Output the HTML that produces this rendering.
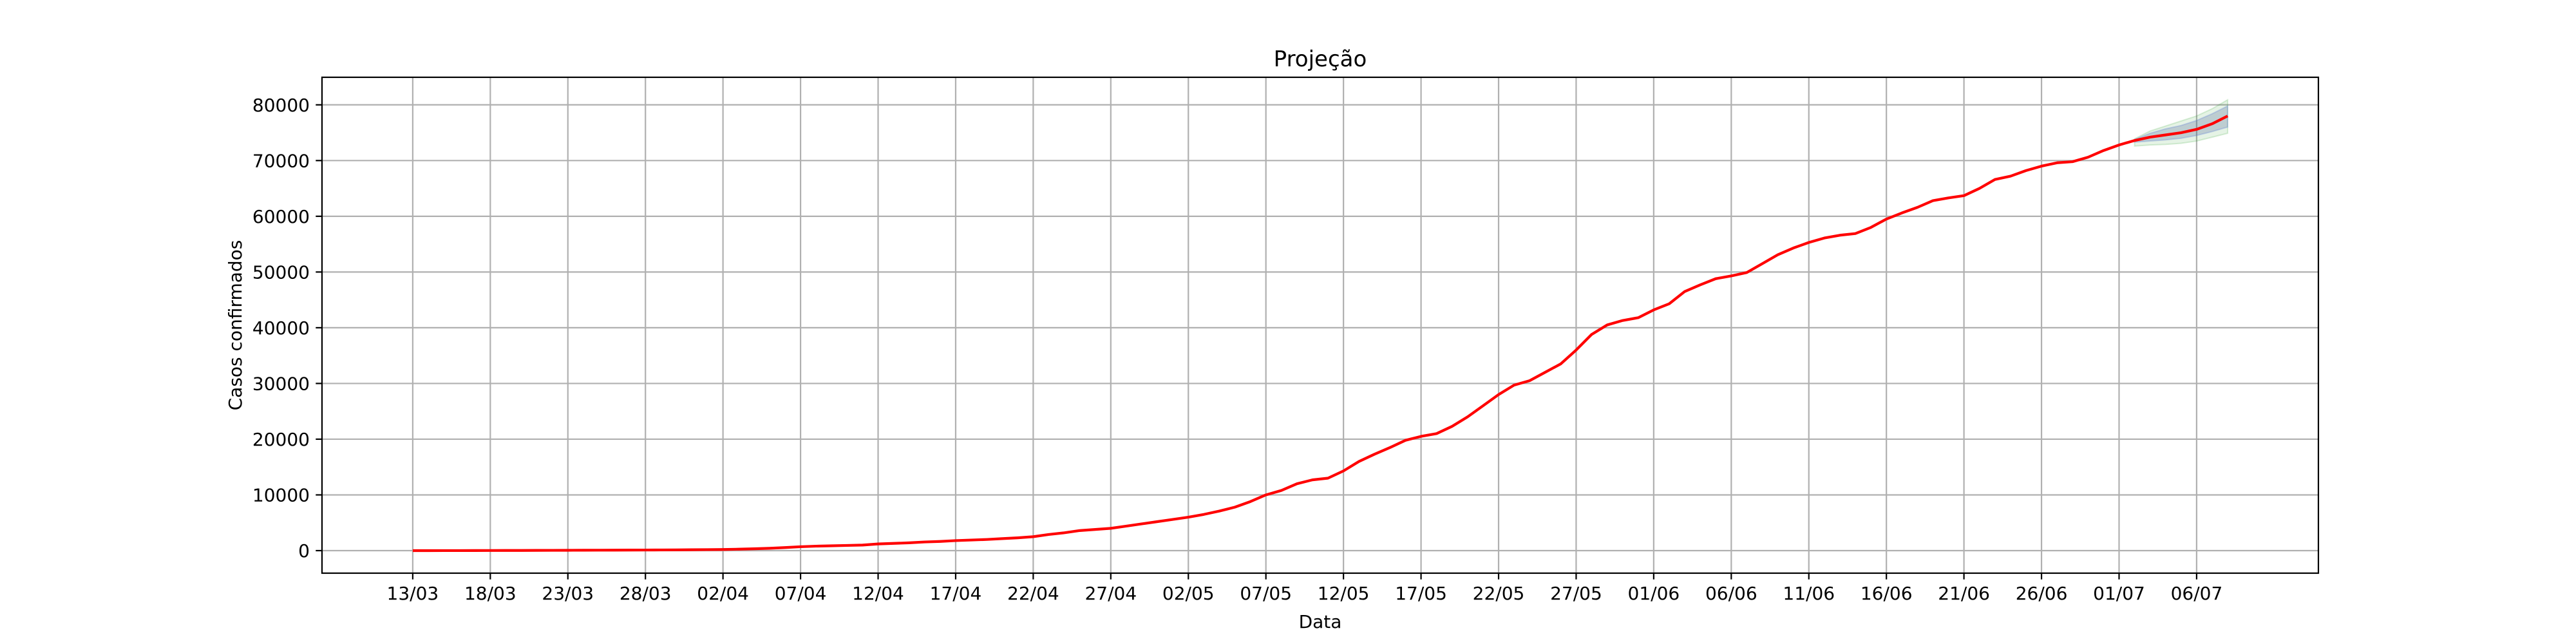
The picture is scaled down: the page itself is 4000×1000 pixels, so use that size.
<!DOCTYPE html>
<html><head><meta charset="utf-8"><title>Projeção</title>
<style>html,body{margin:0;padding:0;background:#fff}svg{display:block;font-family:"DejaVu Sans","Liberation Sans",sans-serif}</style>
</head><body>
<svg id="chart" width="4000" height="1000" viewBox="0 0 4000 1000" xmlns="http://www.w3.org/2000/svg">
<rect width="4000" height="1000" fill="#fff"/>
<g id="grid"></g>
<g id="bands"></g>
<g id="series"></g>
<rect x="500" y="120" width="3100" height="770" fill="none" stroke="#000" stroke-width="2.2"/>
<g id="xaxis"></g>
<g id="yaxis"></g>
<text x="2050" y="103" font-size="34" text-anchor="middle">Projeção</text>
<text x="2050" y="975" font-size="28" text-anchor="middle">Data</text>
<text x="0" y="0" font-size="28" text-anchor="middle" transform="translate(375 505) rotate(-90)">Casos confirmados</text>
</svg>
<script>
const cases = [0,2,5,10,15,20,25,30,40,50,60,70,80,90,100,110,120,140,160,180,200,
260,330,420,550,700,800,870,930,1000,1200,1300,1400,1550,1650,1800,1900,2000,2150,2300,2500,
2900,3200,3600,3800,4000,4400,4800,5200,5600,6000,6500,7100,7800,8800,10000,
10800,12000,12700,13000,14300,16000,17300,18500,19800,20500,21000,22300,24000,26000,28000,
29700,30500,32000,33500,36000,38800,40500,41300,41800,43200,44300,46500,47700,48800,49300,
49900,51500,53100,54300,55300,56100,56600,56900,58000,59500,60600,61600,62800,63300,63700,
65000,66600,67200,68200,69000,69600,69800,70600,71800,72800,
73600,74200,74600,75000,75600,76600,78000];
const bandDays = [111,112,113,114,115,116,117];
const outerHi = [73900,75300,76200,77100,78000,79300,80900];
const innerHi = [73800,74900,75700,76300,77200,78400,79800];
const innerLo = [73300,73500,73700,74000,74500,75200,76000];
const outerLo = [72600,72800,72900,73100,73500,74200,74900];
const xTickDays = [0,5,10,15,20,25,30,35,40,45,50,55,60,65,70,75,80,85,90,95,100,105,110,115];
const xTickLabels = ["13/03","18/03","23/03","28/03","02/04","07/04","12/04","17/04","22/04","27/04","02/05","07/05","12/05","17/05","22/05","27/05","01/06","06/06","11/06","16/06","21/06","26/06","01/07","06/07"];
const yTicks = [0,10000,20000,30000,40000,50000,60000,70000,80000];

const NS="http://www.w3.org/2000/svg";
const L=500,R=3600,T=120,B=890;
const xMin=-5.85, xMax=117+5.85, yMin=-4045, yMax=84945;
const sx=d=>L+(d-xMin)/(xMax-xMin)*(R-L);
const sy=v=>B-(v-yMin)/(yMax-yMin)*(B-T);
function mk(tag,attrs,parent){const e=document.createElementNS(NS,tag);for(const k in attrs)e.setAttribute(k,attrs[k]);parent.appendChild(e);return e;}
const grid=document.getElementById('grid'),xa=document.getElementById('xaxis'),ya=document.getElementById('yaxis');
xTickDays.forEach((d,i)=>{
  const x=sx(d);
  const g=mk('line',{x1:x,x2:x,y1:T,y2:B,stroke:'#b0b0b0','stroke-width':2.2},grid);
  
  
  const t=mk('line',{x1:x,x2:x,y1:B,y2:B+9.7,stroke:'#000','stroke-width':2.2},xa);
  
  
  const lb=mk('text',{x:x,y:931,'font-size':28,'text-anchor':'middle'},xa);
  lb.textContent=xTickLabels[i];
  
  
});
yTicks.forEach(v=>{
  const y=sy(v);
  const g=mk('line',{x1:L,x2:R,y1:y,y2:y,stroke:'#b0b0b0','stroke-width':2.2},grid);
  
  
  const t=mk('line',{x1:L-9.7,x2:L,y1:y,y2:y,stroke:'#000','stroke-width':2.2},ya);
  
  
  const lb=mk('text',{x:481,y:y+10,'font-size':28,'text-anchor':'end'},ya);
  lb.textContent=String(v);
  
  
});
function band(hi,lo,fill,stroke){
  let p=bandDays.map((d,i)=>sx(d)+','+sy(hi[i]));
  p=p.concat(bandDays.slice().reverse().map((d,j)=>{const i=bandDays.length-1-j;return sx(d)+','+sy(lo[i]);}));
  return mk('polygon',{points:p.join(' '),fill:fill,stroke:stroke,'stroke-width':2},document.getElementById('bands'));
}
const ob=band(outerHi,outerLo,'rgba(44,160,44,0.12)','rgba(44,160,44,0.18)');


const ib=band(innerHi,innerLo,'rgba(70,90,150,0.25)','rgba(80,110,220,0.25)');


const line=mk('polyline',{points:cases.map((v,i)=>sx(i)+','+sy(v)).join(' '),fill:'none',stroke:'#ff0000','stroke-width':4.2,'stroke-linejoin':'round'},document.getElementById('series'));


</script>
</body></html>
